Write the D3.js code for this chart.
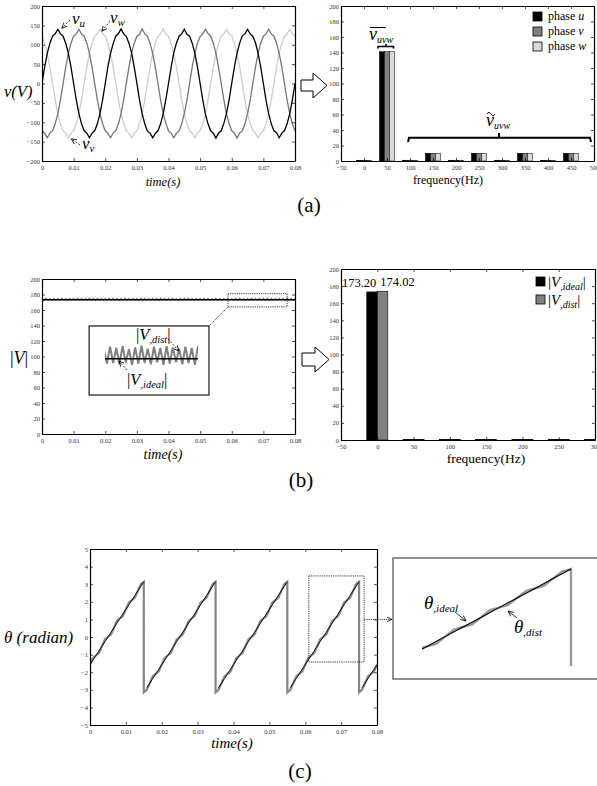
<!DOCTYPE html>
<html lang="en">
<head>
<meta charset="UTF-8">
<title>Voltage waveforms, spectra and angle</title>
<script src="https://cdn.jsdelivr.net/npm/d3@7/dist/d3.min.js"></script>
<style>
    body { margin: 0; background: #fff; }
    svg text { font-family: 'Liberation Serif', 'DejaVu Serif', serif; }
</style>
</head>
<body>
<svg id="fig" width="597" height="786"></svg>
<script>
    // ---- data ----
    var timeTicks = [0, 0.01, 0.02, 0.03, 0.04, 0.05, 0.06, 0.07, 0.08];

    // (a) phase voltages, sampled every 0.08/96 s
    var phaseU = [
        0,42,78,104,122,128,140,128,122,104,78,42,0,-42,-78,-104,-122,-128,-140,-128,-122,-104,-78,-42,
        0,43,78,103,122,129,141,128,121,104,79,42,1,-42,-78,-104,-123,-128,-140,-129,-122,-104,-78,-41,
        0,42,79,104,122,128,140,127,122,104,78,43,0,-42,-79,-104,-122,-128,-141,-128,-122,-103,-78,-42,
        1,42,78,104,123,128,140,128,122,105,78,42,0,-43,-78,-104,-122,-127,-140,-128,-122,-104,-78,-42,
        0];
    var phaseV = [
        -122,-128,-140,-128,-122,-104,-78,-42,
        0,42,78,104,122,128,140,128,122,104,78,42,0,-42,-78,-104,-122,-128,-140,-128,-122,-104,-78,-42,
        1,42,79,104,122,127,141,128,122,104,78,42,0,-42,-78,-103,-122,-128,-140,-128,-123,-104,-78,-43,
        0,43,78,104,121,128,140,129,122,104,78,41,0,-42,-79,-104,-122,-128,-141,-128,-122,-104,-78,-42,
        0,42,78,104,122,128,140,128,122,104,78,42,0,-42,-78,-104,-122];
    var phaseW = [
        122,104,78,42,0,-42,-78,-104,-122,-128,-140,-128,-122,-104,-78,-42,
        0,42,78,104,122,128,140,128,122,104,78,42,0,-42,-78,-104,-122,-128,-140,-128,-122,-104,-78,-42,
        0,42,78,105,122,128,141,128,122,103,78,42,1,-42,-78,-104,-122,-129,-140,-127,-122,-104,-79,-42,
        0,41,78,104,122,128,140,128,123,104,78,43,0,-42,-78,-104,-121,-128,-140,-128,-122,-104,-78,-42,
        0,42,78,104,122,128,140,128,122];

    // (a) spectrum
    var freqsA = [0, 50, 100, 150, 200, 250, 300, 350, 400, 450];
    var specU = [1, 141, 1, 10, 1, 10, 1, 10, 1, 10];
    var specV = [1, 141, 1, 10, 1, 10, 1, 10, 1, 10];
    var specW = [1, 141, 1, 10, 1, 10, 1, 10, 1, 10];
    var freqTicksA = [-50, 0, 50, 100, 150, 200, 250, 300, 350, 400, 450, 500];

    // (b) voltage magnitude
    var magIdealT = [0, 0.08];
    var magIdeal = [173.2, 173.2];
    // sampled every 0.08/128 s
    var magDist = [
        175.1,172.4,175.3,172.6,174.9,172.2,175.2,172.5,175.0,172.3,175.4,172.6,174.8,172.4,175.2,172.7,
        175.0,172.3,175.3,172.5,175.1,172.2,174.9,172.6,175.3,172.4,175.0,172.2,175.2,172.6,174.9,172.4,
        175.2,172.5,175.0,172.3,175.3,172.6,174.8,172.2,175.1,172.4,175.4,172.5,174.9,172.3,175.2,172.6,
        175.0,172.2,175.3,172.4,175.1,172.6,174.9,172.3,175.2,172.5,175.0,172.2,175.3,172.6,174.8,172.4,
        175.1,172.4,175.3,172.6,174.9,172.2,175.2,172.5,175.0,172.3,175.4,172.6,174.8,172.4,175.2,172.7,
        175.0,172.3,175.3,172.5,175.1,172.2,174.9,172.6,175.3,172.4,175.0,172.2,175.2,172.6,174.9,172.4,
        175.2,172.5,175.0,172.3,175.3,172.6,174.8,172.2,175.1,172.4,175.4,172.5,174.9,172.3,175.2,172.6,
        175.0,172.2,175.3,172.4,175.1,172.6,174.9,172.3,175.2,172.5,175.0,172.2,175.3,172.6,174.8,172.4,
        175.0];
    var magTicks = [0, 20, 40, 60, 80, 100, 120, 140, 160, 180, 200];

    // (b) spectrum
    var freqsB = [0, 50, 100, 150, 200, 250, 300];
    var specIdeal = [173.20, 0.6, 0.6, 0.6, 0.6, 0.6, 0.6];
    var specDist = [174.02, 0.6, 0.6, 0.6, 0.6, 0.6, 0.6];
    var freqTicksB = [-50, 0, 50, 100, 150, 200, 250, 300];

    // (c) angle, sampled every 0.08/96 s
    var thetaIdeal = [
        -1.57,-1.31,-1.05,-0.79,-0.52,-0.26,0,0.26,0.52,0.79,1.05,1.31,1.57,1.83,2.09,2.36,2.62,2.88,3.14,-2.88,-2.62,-2.36,-2.09,-1.83,
        -1.57,-1.31,-1.05,-0.79,-0.52,-0.26,0,0.26,0.52,0.79,1.05,1.31,1.57,1.83,2.09,2.36,2.62,2.88,3.14,-2.88,-2.62,-2.36,-2.09,-1.83,
        -1.57,-1.31,-1.05,-0.79,-0.52,-0.26,0,0.26,0.52,0.79,1.05,1.31,1.57,1.83,2.09,2.36,2.62,2.88,3.14,-2.88,-2.62,-2.36,-2.09,-1.83,
        -1.57,-1.31,-1.05,-0.79,-0.52,-0.26,0,0.26,0.52,0.79,1.05,1.31,1.57,1.83,2.09,2.36,2.62,2.88,3.14,-2.88,-2.62,-2.36,-2.09,-1.83,
        -1.57];
    var thetaDist = [
        -1.57,-1.19,-1.05,-0.91,-0.52,-0.14,0,0.14,0.52,0.91,1.05,1.19,1.57,1.95,2.09,2.24,2.62,3.00,3.14,-3.00,-2.62,-2.24,-2.09,-1.95,
        -1.57,-1.19,-1.05,-0.91,-0.52,-0.14,0,0.14,0.52,0.91,1.05,1.19,1.57,1.95,2.09,2.24,2.62,3.00,3.14,-3.00,-2.62,-2.24,-2.09,-1.95,
        -1.57,-1.19,-1.05,-0.91,-0.52,-0.14,0,0.14,0.52,0.91,1.05,1.19,1.57,1.95,2.09,2.24,2.62,3.00,3.14,-3.00,-2.62,-2.24,-2.09,-1.95,
        -1.57,-1.19,-1.05,-0.91,-0.52,-0.14,0,0.14,0.52,0.91,1.05,1.19,1.57,1.95,2.09,2.24,2.62,3.00,3.14,-3.00,-2.62,-2.24,-2.09,-1.95,
        -1.57];
    var thetaTicks = [-5, -4, -3, -2, -1, 0, 1, 2, 3, 4, 5];

    // ---- drawing ----
    var SERIF = "'Liberation Serif','DejaVu Serif',serif";
    var svg = d3.select("#fig");
    var stepA = 0.08 / (phaseU.length - 1);
    var tA = phaseU.map(function (d, i) { return i * stepA; });
    var stepB = 0.08 / (magDist.length - 1);
    var tB = magDist.map(function (d, i) { return i * stepB; });

    var defs = svg.append("defs");
    defs.append("marker").attr("id", "ah").attr("viewBox", "0 0 6 6")
        .attr("refX", 5.5).attr("refY", 3).attr("markerWidth", 6).attr("markerHeight", 6)
        .attr("markerUnits", "userSpaceOnUse").attr("orient", "auto")
        .append("path").attr("d", "M0,0.5 L5.5,3 L0,5.5").attr("fill", "none")
        .attr("stroke", "#000").attr("stroke-width", 0.8);

    var clipId = 0;
    function clip(x, y, w, h) {
        var id = "c" + (clipId++);
        defs.append("clipPath").attr("id", id).append("rect")
            .attr("x", x).attr("y", y).attr("width", w).attr("height", h);
        return "url(#" + id + ")";
    }
    function plotClip(x, y) {
        var r0 = x.range(), r1 = y.range();
        return clip(r0[0], r1[1], r0[1] - r0[0], r1[0] - r1[1]);
    }

    function fixAxis(s) {
        s.attr("font-family", SERIF).attr("font-size", 6.5);
        s.selectAll("text").attr("fill", "#333");
        s.select(".domain").attr("stroke-width", 1.2);
        s.selectAll(".tick line").attr("stroke-width", 0.7);
    }
    function axes(x, y, xt, yt, xf, yf) {
        var yb = y.range()[0], ytop = y.range()[1], xl = x.range()[0], xr = x.range()[1];
        svg.append("g").attr("transform", "translate(0," + yb + ")")
            .call(d3.axisBottom(x).tickValues(xt).tickFormat(xf).tickSize(-3).tickSizeOuter(0).tickPadding(4)).call(fixAxis);
        svg.append("g").attr("transform", "translate(0," + ytop + ")")
            .call(d3.axisTop(x).tickValues(xt).tickFormat("").tickSize(-3).tickSizeOuter(0)).call(fixAxis);
        svg.append("g").attr("transform", "translate(" + xl + ",0)")
            .call(d3.axisLeft(y).tickValues(yt).tickFormat(yf).tickSize(-3).tickSizeOuter(0).tickPadding(2)).call(fixAxis);
        svg.append("g").attr("transform", "translate(" + xr + ",0)")
            .call(d3.axisRight(y).tickValues(yt).tickFormat("").tickSize(-3).tickSizeOuter(0)).call(fixAxis);
    }
    var fmtTime = function (d) { return d === 0 ? "0" : d3.format(".2f")(d); };
    var fmtInt = d3.format("d");

    function rich(x, y, parts, anchor) {
        var t = svg.append("text").attr("x", x).attr("y", y).attr("text-anchor", anchor || "start");
        parts.forEach(function (p) {
            t.append("tspan").text(p.t).attr("font-size", p.s)
                .attr("font-style", p.i ? "italic" : "normal").attr("dy", p.dy || 0);
        });
        return t;
    }
    function pointer(x1, y1, x2, y2, dash) {
        svg.append("line").attr("x1", x1).attr("y1", y1).attr("x2", x2).attr("y2", y2)
            .attr("stroke", "#000").attr("stroke-width", 0.8)
            .attr("stroke-dasharray", dash || "2,1.5").attr("marker-end", "url(#ah)");
    }
    function blockArrow(x0, yc, shaftH, shaftL, headH, headL) {
        var pts = [[x0, yc - shaftH / 2], [x0 + shaftL, yc - shaftH / 2], [x0 + shaftL, yc - headH / 2],
            [x0 + shaftL + headL, yc], [x0 + shaftL, yc + headH / 2], [x0 + shaftL, yc + shaftH / 2],
            [x0, yc + shaftH / 2]];
        svg.append("polygon").attr("points", pts.map(function (p) { return p.join(","); }).join(" "))
            .attr("fill", "#fff").attr("stroke", "#000").attr("stroke-width", 1);
    }
    function series(tArr, vArr) {
        return vArr.map(function (v, i) { return [tArr[i], v]; });
    }
    // insert the -pi end of a phase wrap, so the jump is drawn vertical
    function wrapped(vals) {
        var pts = [];
        vals.forEach(function (v, i) {
            pts.push([tA[i], v]);
            if (i < vals.length - 1 && vals[i + 1] < v - Math.PI) pts.push([tA[i], -Math.PI]);
        });
        return pts;
    }
    // break the ideal ramp at each wrap
    function ramps(vals) {
        var pts = [];
        vals.forEach(function (v, i) {
            pts.push([tA[i], v]);
            if (i < vals.length - 1 && vals[i + 1] < v - Math.PI) pts.push([tA[i], NaN]);
        });
        return pts;
    }

    // ===== (a) left: phase voltages =====
    var xA = d3.scaleLinear().domain([0, 0.08]).range([42, 295]);
    var yA = d3.scaleLinear().domain([-200, 200]).range([161, 6]);
    var lineA = d3.line().x(function (d) { return xA(d[0]); }).y(function (d) { return yA(d[1]); });
    var gA = svg.append("g").attr("clip-path", plotClip(xA, yA));
    [[phaseW, "#cdcdcd"], [phaseV, "#767676"], [phaseU, "#000"]].forEach(function (s) {
        gA.append("path").attr("d", lineA(series(tA, s[0])))
            .attr("fill", "none").attr("stroke", s[1]).attr("stroke-width", 1.3);
    });
    axes(xA, yA, timeTicks, [-200, -150, -100, -50, 0, 50, 100, 150, 200], fmtTime, fmtInt);
    rich(4, 97, [{t: "v(V)", s: 16.5, i: 1}]);
    rich(163, 186, [{t: "time(s)", s: 12.5, i: 1}], "middle");
    rich(72, 24, [{t: "v", s: 17, i: 1}, {t: "u", s: 11, i: 1, dy: 3}]);
    pointer(70, 20, xA(0.005) + 4, yA(140) - 1);
    rich(110, 23, [{t: "v", s: 17, i: 1}, {t: "w", s: 11, i: 1, dy: 3}]);
    pointer(110, 21, xA(0.0183) + 2, yA(140) + 2);
    rich(82, 149, [{t: "v", s: 17, i: 1}, {t: "v", s: 11, i: 1, dy: 3}]);
    pointer(80, 145, xA(0.0083) + 3, yA(-140) + 1);

    // ===== (a) right: spectrum =====
    var fA = d3.scaleLinear().domain([-50, 500]).range([341, 594]);
    var mA = d3.scaleLinear().domain([0, 200]).range([161, 6]);
    var bwA = 11;
    var gAr = svg.append("g").attr("clip-path", plotClip(fA, mA));
    [[specU, "#000"], [specV, "#808080"], [specW, "#d9d9d9"]].forEach(function (s, k) {
        gAr.selectAll(null).data(s[0]).enter().append("rect")
            .attr("x", function (d, i) { return fA(freqsA[i] + (k - 1.5) * bwA); })
            .attr("width", fA(bwA) - fA(0))
            .attr("y", function (d) { return mA(d); })
            .attr("height", function (d) { return mA(0) - mA(d); })
            .attr("fill", s[1]).attr("stroke", "#000").attr("stroke-width", 0.5);
    });
    axes(fA, mA, freqTicksA, [0, 20, 40, 60, 80, 100, 120, 140, 160, 180, 200], fmtInt, fmtInt);
    rich(448, 184, [{t: "frequency(Hz)", s: 12}], "middle");
    [["u", "#000"], ["v", "#808080"], ["w", "#d9d9d9"]].forEach(function (p, i) {
        svg.append("rect").attr("x", 533).attr("y", 12 + i * 15).attr("width", 9).attr("height", 9)
            .attr("fill", p[1]).attr("stroke", "#000").attr("stroke-width", 0.8);
        rich(548, 20 + i * 15, [{t: "phase ", s: 12}, {t: p[0], s: 12, i: 1}]);
    });
    // fundamental annotation
    svg.append("line").attr("x1", 370).attr("x2", 386).attr("y1", 27.5).attr("y2", 27.5).attr("stroke", "#000").attr("stroke-width", 1);
    rich(369, 40, [{t: "v", s: 18, i: 1}, {t: "uvw", s: 10, i: 1, dy: 3}]);
    svg.append("path").attr("d", "M378,48.5 L378,46.5 L393.5,46.5 L393.5,48.5 M386,46.5 L386,44")
        .attr("fill", "none").attr("stroke", "#000").attr("stroke-width", 1.6);
    // harmonics annotation
    svg.append("path").attr("d", "M487,114 q2,-3.5 4,0 t4,0").attr("fill", "none").attr("stroke", "#000").attr("stroke-width", 0.9);
    rich(486, 126, [{t: "v", s: 18, i: 1}, {t: "uvw", s: 10, i: 1, dy: 3}]);
    svg.append("path").attr("d", "M408,142 L409,137.7 L590,137.7 L591,142 M499,137.7 L499,133")
        .attr("fill", "none").attr("stroke", "#000").attr("stroke-width", 2);

    blockArrow(301, 85.5, 11, 12, 25, 14);
    rich(309, 212, [{t: "(a)", s: 21}], "middle");

    // ===== (b) left: magnitude =====
    var xB = d3.scaleLinear().domain([0, 0.08]).range([42, 295]);
    var yB = d3.scaleLinear().domain([0, 200]).range([434, 279]);
    var lineB = d3.line().x(function (d) { return xB(d[0]); }).y(function (d) { return yB(d[1]); });
    var gB = svg.append("g").attr("clip-path", plotClip(xB, yB));
    gB.append("path").attr("d", lineB(series(tB, magDist))).attr("fill", "none").attr("stroke", "#888").attr("stroke-width", 1.1);
    gB.append("path").attr("d", lineB(series(magIdealT, magIdeal))).attr("fill", "none").attr("stroke", "#000").attr("stroke-width", 1.3);
    axes(xB, yB, timeTicks, magTicks, fmtTime, fmtInt);
    rich(10, 364, [{t: "|", s: 18}, {t: "V", s: 18, i: 1}, {t: "|", s: 18}]);
    rich(163, 459, [{t: "time(s)", s: 14, i: 1}], "middle");
    // zoom window and inset
    var zw = [0.0588, 0.0775, 164, 181];
    svg.append("rect").attr("x", xB(zw[0])).attr("y", yB(zw[3])).attr("width", xB(zw[1]) - xB(zw[0]))
        .attr("height", yB(zw[2]) - yB(zw[3])).attr("fill", "none").attr("stroke", "#000")
        .attr("stroke-width", 0.8).attr("stroke-dasharray", "1.2,1");
    var ib = [0.0149, 0.0528, 50.3, 139.4];
    svg.append("line").attr("x1", xB(zw[0])).attr("y1", yB(zw[2])).attr("x2", xB(ib[1])).attr("y2", yB(ib[3]))
        .attr("stroke", "#000").attr("stroke-width", 0.8).attr("stroke-dasharray", "1.2,1");
    svg.append("rect").attr("x", xB(ib[0])).attr("y", yB(ib[3])).attr("width", xB(ib[1]) - xB(ib[0]))
        .attr("height", yB(ib[2]) - yB(ib[3])).attr("fill", "#fff").attr("stroke", "#000").attr("stroke-width", 1.1);
    var xBi = d3.scaleLinear().domain([0.059, 0.0775]).range([105, 198]);
    var yBi = d3.scaleLinear().domain([170, 176]).range([378, 342]);
    var lineBi = d3.line().x(function (d) { return xBi(d[0]); }).y(function (d) { return yBi(d[1]); });
    var gBi = svg.append("g").attr("clip-path", clip(105, 330, 93, 60));
    gBi.append("path").attr("d", lineBi(series(tB, magDist))).attr("fill", "none").attr("stroke", "#808080").attr("stroke-width", 2);
    gBi.append("path").attr("d", lineBi(series(magIdealT, magIdeal))).attr("fill", "none").attr("stroke", "#000").attr("stroke-width", 1.5);
    rich(136, 340, [{t: "|", s: 16.5}, {t: "V", s: 16.5, i: 1}, {t: ",dist", s: 10.5, i: 1, dy: 3}, {t: "|", s: 16.5, dy: -3}]);
    pointer(168, 339, 179, 351);
    rich(127, 385, [{t: "|", s: 16.5}, {t: "V", s: 16.5, i: 1}, {t: ",ideal", s: 10.5, i: 1, dy: 3}, {t: "|", s: 16.5, dy: -3}]);
    pointer(127, 370, 119, 361);

    // ===== (b) right: spectrum =====
    var fB = d3.scaleLinear().domain([-50, 300]).range([341, 595]);
    var mB = d3.scaleLinear().domain([0, 200]).range([440, 269]);
    var bwB = 14.5;
    var gBr = svg.append("g").attr("clip-path", plotClip(fB, mB));
    [[specIdeal, "#000"], [specDist, "#808080"]].forEach(function (s, k) {
        gBr.selectAll(null).data(s[0]).enter().append("rect")
            .attr("x", function (d, i) { return fB(freqsB[i] + (k - 1) * bwB); })
            .attr("width", fB(bwB) - fB(0))
            .attr("y", function (d) { return mB(d); })
            .attr("height", function (d) { return mB(0) - mB(d); })
            .attr("fill", s[1]).attr("stroke", "#000").attr("stroke-width", 0.6);
    });
    svg.append("text").attr("x", fB(0) - 1).attr("y", mB(specIdeal[0]) - 5).attr("text-anchor", "end")
        .attr("font-size", 12.5).text(d3.format(".2f")(specIdeal[0]));
    svg.append("text").attr("x", fB(0) + 3).attr("y", mB(specDist[0]) - 5).attr("text-anchor", "start")
        .attr("font-size", 12.5).text(d3.format(".2f")(specDist[0]));
    axes(fB, mB, freqTicksB, magTicks, fmtInt, fmtInt);
    rich(486, 463, [{t: "frequency(Hz)", s: 13.5}], "middle");
    [["ideal", "#000"], ["dist", "#808080"]].forEach(function (p, i) {
        svg.append("rect").attr("x", 536).attr("y", 277 + i * 18).attr("width", 9).attr("height", 9)
            .attr("fill", p[1]).attr("stroke", "#000").attr("stroke-width", 0.8);
        rich(548, 287 + i * 18, [{t: "|", s: 15}, {t: "V", s: 15, i: 1}, {t: "," + p[0], s: 10, i: 1, dy: 3}, {t: "|", s: 15, dy: -3}]);
    });
    blockArrow(302, 359.5, 13, 13, 25, 14);
    rich(301, 487, [{t: "(b)", s: 21}], "middle");

    // ===== (c) angle =====
    var xC = d3.scaleLinear().domain([0, 0.08]).range([90, 377]);
    var yC = d3.scaleLinear().domain([-5, 5]).range([725, 549]);
    var lineC = d3.line().defined(function (d) { return !isNaN(d[1]); })
        .x(function (d) { return xC(d[0]); }).y(function (d) { return yC(d[1]); });
    var gC = svg.append("g").attr("clip-path", plotClip(xC, yC));
    gC.append("path").attr("d", lineC(wrapped(thetaDist))).attr("fill", "none").attr("stroke", "#858585").attr("stroke-width", 2.2);
    gC.append("path").attr("d", lineC(ramps(thetaIdeal))).attr("fill", "none").attr("stroke", "#000").attr("stroke-width", 0.9);
    axes(xC, yC, timeTicks, thetaTicks, fmtTime, fmtInt);
    rich(4, 643, [{t: "\u03b8 (radian)", s: 17, i: 1}]);
    rich(232, 748, [{t: "time(s)", s: 15, i: 1}], "middle");
    var zc = [0.061, 0.0764, -1.42, 3.47];
    svg.append("rect").attr("x", xC(zc[0])).attr("y", yC(zc[3])).attr("width", xC(zc[1]) - xC(zc[0]))
        .attr("height", yC(zc[2]) - yC(zc[3])).attr("fill", "none").attr("stroke", "#000")
        .attr("stroke-width", 0.8).attr("stroke-dasharray", "1.2,1");
    pointer(xC(zc[1]), yC(1), 392, yC(1), "1.2,1");
    // inset
    svg.append("rect").attr("x", 393).attr("y", 558).attr("width", 210).attr("height", 121)
        .attr("fill", "#fff").attr("stroke", "#6e6e6e").attr("stroke-width", 1.5);
    var xCi = d3.scaleLinear().domain([0.0612, 0.075]).range([422, 571]);
    var yCi = d3.scaleLinear().domain([-1.19, 3.14]).range([649, 569]);
    var lineCi = d3.line().defined(function (d) { return !isNaN(d[1]); })
        .x(function (d) { return xCi(d[0]); }).y(function (d) { return yCi(d[1]); });
    var gCi = svg.append("g").attr("clip-path", clip(422, 559, 175, 107));
    gCi.append("path").attr("d", lineCi(wrapped(thetaDist))).attr("fill", "none").attr("stroke", "#999").attr("stroke-width", 2.4);
    gCi.append("path").attr("d", lineCi(ramps(thetaIdeal))).attr("fill", "none").attr("stroke", "#000").attr("stroke-width", 1.1);
    rich(424, 609, [{t: "\u03b8", s: 19, i: 1}, {t: ",ideal", s: 11, i: 1, dy: 3}]);
    pointer(455, 612, 466, 621, "none");
    rich(514, 633, [{t: "\u03b8", s: 19, i: 1}, {t: ",dist", s: 11, i: 1, dy: 3}]);
    pointer(517, 618, 508, 611, "none");
    rich(300, 778, [{t: "(c)", s: 21}], "middle");
</script>
</body>
</html>
